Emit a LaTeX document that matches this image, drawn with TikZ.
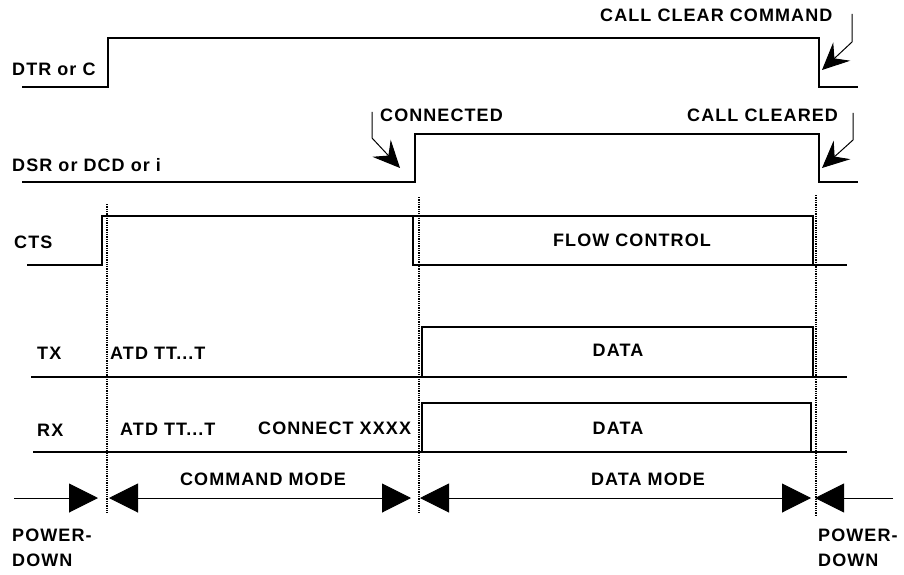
\documentclass[tikz,border=0pt]{standalone}
\usepackage{fontspec}
\setmainfont[LetterSpace=6]{Liberation Sans}
\usetikzlibrary{arrows.meta}

\begin{document}
\begin{tikzpicture}[x=1pt,y=-1pt,
  sig/.style={line width=2.4pt},
  guide/.style={densely dotted, line width=1.3pt},
  lbl/.style={font=\bfseries\fontsize{18}{25}\selectfont, inner sep=0pt},
  lead/.style={line width=1pt, -{Stealth[length=27pt,width=25pt,inset=10pt]}},
  span/.style={line width=1pt}]
\useasboundingbox (0,0) rectangle (904,575);

% DTR
\draw[sig] (22,87) -- (108,87) -- (108,38) -- (819,38) -- (819,87) -- (858,87);
\node[lbl, anchor=west] (dtr) at (12,69) {DTR or C};

% DSR
\draw[sig] (22,182) -- (415,182) -- (415,134) -- (819,134) -- (819,182) -- (858,182);
\node[lbl, anchor=west] (dsr) at (12,165) {DSR or DCD or i};

% CTS
\draw[sig] (27,265) -- (102,265) -- (102,216) -- (813,216) -- (813,265);
\draw[sig] (413,216) -- (413,265) -- (847,265);
\node[lbl, anchor=west] (cts) at (14,242) {CTS};
\node[lbl] (flow) at (632,240) {FLOW CONTROL};

% TX
\draw[sig] (31,377) -- (847,377);
\draw[sig] (422,377) -- (422,327) -- (813,327) -- (813,377);
\node[lbl, anchor=west] (tx) at (37,353) {TX};
\node[lbl, anchor=west] (txcmd) at (110,353) {ATD TT...T};
\node[lbl] (txdata) at (618,350) {DATA};

% RX
\draw[sig] (33,452) -- (847,452);
\draw[sig] (422,452) -- (422,403) -- (811,403) -- (811,452);
\node[lbl, anchor=west] (rx) at (37,430) {RX};
\node[lbl, anchor=west] (rxcmd) at (120,429) {ATD TT...T};
\node[lbl, anchor=west] (rxconn) at (258,428) {CONNECT XXXX};
\node[lbl] (rxdata) at (618,428) {DATA};

% Events
\draw[guide] (107,204) -- (107,513);
\draw[guide] (419,197) -- (419,513);
\draw[guide] (816,195) -- (816,515);

% Leaders
\node[lbl, anchor=west] (clrcmd) at (600,15) {CALL CLEAR COMMAND};
\coordinate (clrcmdA) at (852,14);
\coordinate (clrcmdB) at (822,70);
\draw[lead] (clrcmdA) -- ++(0,28) -- (clrcmdB);

\node[lbl, anchor=west] (conn) at (380,115) {CONNECTED};
\coordinate (connA) at (372,112);
\coordinate (connB) at (400,168);
\draw[lead] (connA) -- ++(0,26) -- (connB);

\node[lbl, anchor=west] (clrd) at (687,115) {CALL CLEARED};
\coordinate (clrdA) at (853,113);
\coordinate (clrdB) at (822,168);
\draw[lead] (clrdA) -- ++(0,27) -- (clrdB);

% Modes
\coordinate (pdL) at (14,498);
\coordinate (cmdL) at (98,498);
\coordinate (cmdR) at (109,498);
\coordinate (datL) at (411,498);
\coordinate (datR) at (420,498);
\coordinate (endL) at (811,498);
\coordinate (endR) at (815,498);
\coordinate (pdR) at (893,498);
\draw[span, -{Triangle[length=29pt,width=29pt]}] (pdL) -- (cmdL);
\draw[span, {Triangle[length=29pt,width=29pt]}-{Triangle[length=29pt,width=29pt]}] (cmdR) -- (datL);
\draw[span, {Triangle[length=29pt,width=29pt]}-{Triangle[length=29pt,width=29pt]}] (datR) -- (endL);
\draw[span, -{Triangle[length=29pt,width=29pt]}] (pdR) -- (endR);
\node[lbl] (cmdmode) at (263,479) {COMMAND MODE};
\node[lbl] (datmode) at (648,479) {DATA MODE};
\node[lbl, anchor=north west, align=left] (pdown1) at (12,529) {POWER-\\DOWN};
\node[lbl, anchor=north west, align=left] (pdown2) at (818,529) {POWER-\\DOWN};
\end{tikzpicture}
\end{document}
